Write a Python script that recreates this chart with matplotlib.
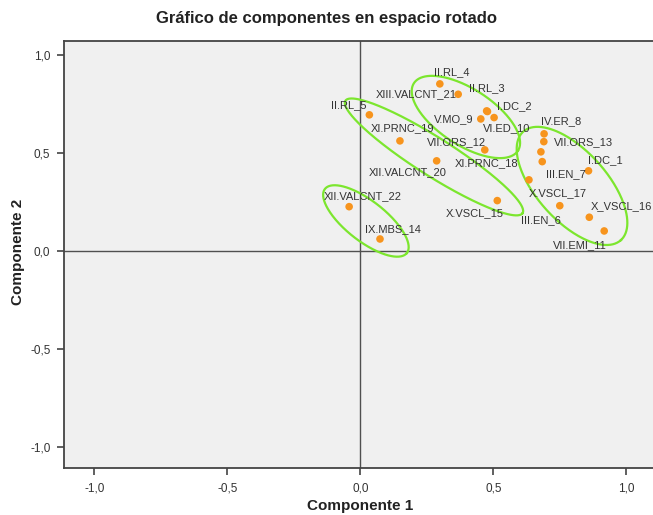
import numpy as np
import matplotlib
matplotlib.use("Agg")
import matplotlib.pyplot as plt

plt.rcParams['font.family'] = ['Liberation Sans', 'DejaVu Sans']

# ---- data (component loadings) ----
labels = ["II.RL_4", "XIII.VALCNT_21", "II.RL_3", "I.DC_2", "V.MO_9", "VI.ED_10",
          "II.RL_5", "XI.PRNC_19", "VII.ORS_12", "XII.VALCNT_20", "XI.PRNC_18",
          "X.VSCL_15", "IV.ER_8", "VII.ORS_13", "I.DC_1", "III.EN_7",
          "X.VSCL_17", "X_VSCL_16", "III.EN_6", "VII.EMI_11",
          "XII.VALCNT_22", "IX.MBS_14"]
comp1 = [0.299, 0.368, 0.475, 0.478, 0.453, 0.503,
         0.034, 0.149, 0.468, 0.287, 0.679,
         0.515, 0.691, 0.690, 0.858, 0.684,
         0.634, 0.861, 0.750, 0.917,
         -0.042, 0.074]
comp2 = [0.853, 0.800, 0.715, 0.712, 0.674, 0.681,
         0.695, 0.562, 0.516, 0.460, 0.506,
         0.257, 0.598, 0.558, 0.409, 0.456,
         0.363, 0.172, 0.231, 0.102,
         0.226, 0.061]

xticks = [-1.0, -0.5, 0.0, 0.5, 1.0]
yticks = [-1.0, -0.5, 0.0, 0.5, 1.0]
tick_labels = ["-1,0", "-0,5", "0,0", "0,5", "1,0"]

# ---- label offsets (pixels) ----
label_offsets = {
    "II.RL_4": (12, 12), "XIII.VALCNT_21": (-42, 0), "II.RL_3": (0, 23),
    "I.DC_2": (27, 5), "V.MO_9": (-27, 0), "VI.ED_10": (13, -11),
    "II.RL_5": (-21, 9.5), "XI.PRNC_19": (3, 13), "VII.ORS_12": (-28, 8),
    "XII.VALCNT_20": (-28.5, -11.5), "XI.PRNC_18": (-54.5, -11),
    "X.VSCL_15": (-23, -13), "IV.ER_8": (17, 12.5), "VII.ORS_13": (40, 0),
    "I.DC_1": (17, 10.5), "III.EN_7": (24, -12), "X.VSCL_17": (29, -13),
    "X_VSCL_16": (32, 11), "III.EN_6": (-19, -14), "VII.EMI_11": (-24, -14),
    "XII.VALCNT_22": (14, 11), "IX.MBS_14": (13, 10),
}

# ---- annotation ellipses: centre, semi-axis vectors (data units) ----
ellipses = [
    ((0.397, 0.684), (0.1955, -0.1725), (-0.0573, -0.120)),
    ((0.277, 0.480), (0.333, -0.287), (-0.0383, -0.0819)),
    ((0.796, 0.332), (0.1836, -0.277), (-0.0978, -0.1195)),
    ((0.021, 0.153), (0.154, -0.1636), (-0.0463, -0.0807)),
]

W, H = 653, 515
fig = plt.figure(figsize=(W / 100, H / 100), dpi=100)
ax = fig.add_axes([64.3 / W, (H - 468.3) / H, (655 - 64.3) / W, (468.3 - 41) / H])
ax.set_facecolor("#F0F0F0")
ax.set_xlim(-1.113, 1.108)
ax.set_ylim(-1.11, 1.072)

ax.axhline(0, color="#505050", lw=1.0, zorder=1)
ax.axvline(0, color="#505050", lw=1.0, zorder=1)

t = np.linspace(0, 2 * np.pi, 300)
for (cx, cy), (axx, axy), (bx, by) in ellipses:
    ex = cx + axx * np.cos(t) + bx * np.sin(t)
    ey = cy + axy * np.cos(t) + by * np.sin(t)
    ax.plot(ex, ey, color="#7CE62E", lw=1.6, zorder=2)

ax.scatter(comp1, comp2, s=30, color="#F7941D", edgecolors="none", zorder=3)

for lab, x, y in zip(labels, comp1, comp2):
    dx, dy = label_offsets[lab]
    ax.annotate(lab, (x, y), xytext=(dx, dy), textcoords="offset pixels",
                ha="center", va="center", fontsize=8, color="#333333", zorder=4)

ax.set_xticks(xticks)
ax.set_xticklabels(tick_labels)
ax.set_yticks(yticks)
ax.set_yticklabels(tick_labels)
ax.tick_params(direction="out", length=5, width=1.2, color="#444444",
               labelsize=8.5, labelcolor="#333333", pad=5)
for side in ["top", "right"]:
    ax.spines[side].set_visible(False)
for side in ["left", "bottom"]:
    ax.spines[side].set_color("#444444")
    ax.spines[side].set_linewidth(1.3)
ax.plot([-1.113, 1.108], [1.072, 1.072], color="#444444", lw=1.3, clip_on=False, zorder=5)

fig.text(327 / W, 1 - 19 / H, "Gráfico de componentes en espacio rotado",
         ha="center", va="center", fontsize=12, fontweight="bold", color="#222222")
fig.text(360 / W, 1 - 506 / H, "Componente 1", ha="center", va="center",
         fontsize=11, fontweight="bold", color="#222222")
fig.text(18 / W, 1 - 252 / H, "Componente 2", ha="center", va="center",
         rotation=90, fontsize=11, fontweight="bold", color="#222222")

fig.savefig("out.png", dpi=100)
